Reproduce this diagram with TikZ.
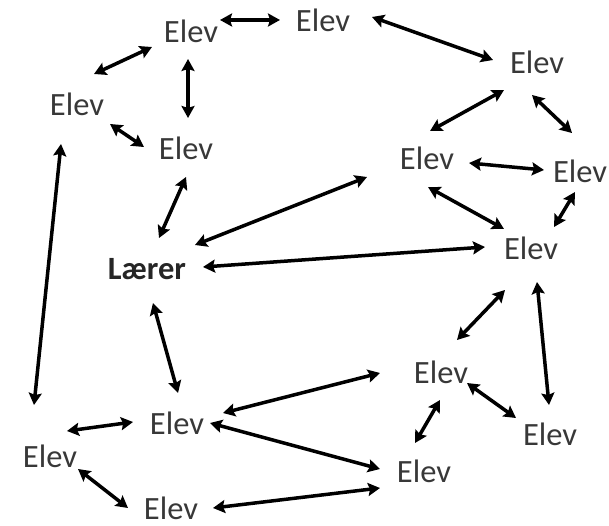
\documentclass[tikz,border=0pt]{standalone}
\usepackage{fontspec}
\setmainfont{Carlito}
\usetikzlibrary{arrows.meta}
\tikzset{
  elev/.style={font=\fontsize{32.5}{39}\selectfont, text=black!78, inner sep=0pt},
  laerer/.style={font=\fontsize{32.5}{39}\selectfont\bfseries, text=black!85, inner sep=0pt},
  arr/.style={line width=3.5pt, {Stealth[length=12pt,width=13pt,inset=2pt]}-{Stealth[length=12pt,width=13pt,inset=2pt]}}
}

\begin{document}
\begin{tikzpicture}[x=1pt,y=-1pt]
 \useasboundingbox (0,0) rectangle (609,526);
 % nodes
 \node[elev] (A) at (191,31) {Elev};
 \node[elev] (B) at (323,20) {Elev};
 \node[elev] (C) at (537,62) {Elev};
 \node[elev] (D) at (77,104) {Elev};
 \node[elev] (E) at (186,148) {Elev};
 \node[elev] (F) at (427,158) {Elev};
 \node[elev] (G) at (580,171) {Elev};
 \node[elev] (H) at (531,248) {Elev};
 \node[laerer] (L) at (147,269) {Lærer};
 \node[elev] (I) at (441,372) {Elev};
 \node[elev] (J) at (177,423) {Elev};
 \node[elev] (K) at (550,434) {Elev};
 \node[elev] (M) at (50,456) {Elev};
 \node[elev] (N) at (424,471) {Elev};
 \node[elev] (O) at (171,508) {Elev};
 % arrows
 \draw[arr] ([shift={(29,-11)}]A.center) -- ([shift={(-43,0)}]B.center);
 \draw[arr] ([shift={(-39,16)}]A.center) -- ([shift={(17,-30)}]D.center);
 \draw[arr] ([shift={(-3,28)}]A.center) -- ([shift={(2,-30)}]E.center);
 \draw[arr] ([shift={(33,20)}]D.center) -- ([shift={(-42,-1)}]E.center);
 \draw[arr] ([shift={(49,-3)}]B.center) -- ([shift={(-44,-2)}]C.center);
 \draw[arr] ([shift={(-33,28)}]C.center) -- ([shift={(3,-27)}]F.center);
 \draw[arr] ([shift={(-5,33)}]C.center) -- ([shift={(-8,-38)}]G.center);
 \draw[arr] ([shift={(42,5)}]F.center) -- ([shift={(-36,-1)}]G.center);
 \draw[arr] ([shift={(1,29)}]F.center) -- ([shift={(-27,-19)}]H.center);
 \draw[arr] ([shift={(-5,21)}]G.center) -- ([shift={(23,-21)}]H.center);
 \draw[arr] ([shift={(0,29)}]E.center) -- ([shift={(12,-31)}]L.center);
 \draw[arr] ([shift={(48,-24)}]L.center) -- ([shift={(-60,19)}]F.center);
 \draw[arr] ([shift={(56,-2)}]L.center) -- ([shift={(-46,-1)}]H.center);
 \draw[arr] ([shift={(6,34)}]L.center) -- ([shift={(1,-30)}]J.center);
 \draw[arr] ([shift={(-16,40)}]D.center) -- ([shift={(-16,-51)}]M.center);
 \draw[arr] ([shift={(-26,42)}]H.center) -- ([shift={(16,-32)}]I.center);
 \draw[arr] ([shift={(6,34)}]H.center) -- ([shift={(-1,-29)}]K.center);
 \draw[arr] ([shift={(-61,1)}]I.center) -- ([shift={(46,-10)}]J.center);
 \draw[arr] ([shift={(26,11)}]I.center) -- ([shift={(-34,-16)}]K.center);
 \draw[arr] ([shift={(-1,28)}]I.center) -- ([shift={(-9,-28)}]N.center);
 \draw[arr] ([shift={(-44,-1)}]J.center) -- ([shift={(17,-25)}]M.center);
 \draw[arr] ([shift={(33,0)}]J.center) -- ([shift={(-44,-2)}]N.center);
 \draw[arr] ([shift={(28,13)}]M.center) -- ([shift={(-43,0)}]O.center);
 \draw[arr] ([shift={(42,0)}]O.center) -- ([shift={(-44,17)}]N.center);
\end{tikzpicture}
\end{document}
